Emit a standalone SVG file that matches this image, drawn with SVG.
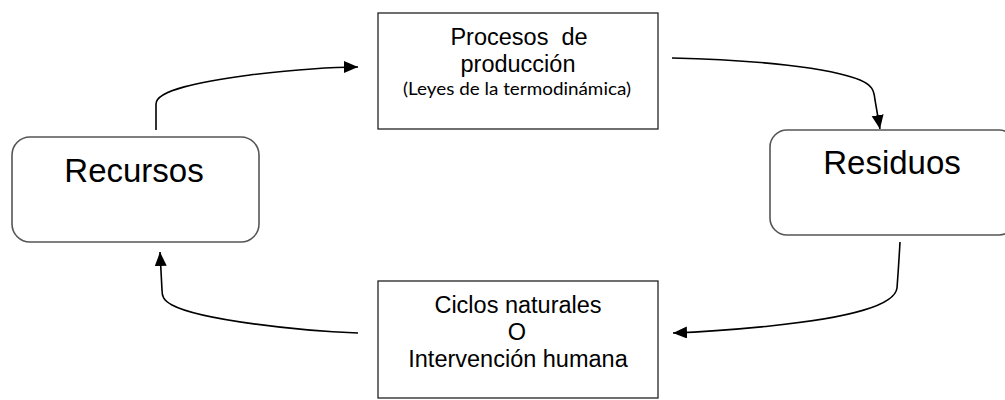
<svg xmlns="http://www.w3.org/2000/svg" width="1005" height="400" viewBox="0 0 1005 400">
<defs>
<style>
.rbox{fill:#fff;stroke:#555;stroke-width:1.6}
.box{fill:#fff;stroke:#222;stroke-width:1.3}
.t{font-family:"Liberation Sans",Arial,sans-serif;fill:#000;text-anchor:middle}
.big{font-size:33px}
.mid{font-size:23.5px}
.small{font-family:Lato,"Open Sans",sans-serif;font-size:17.5px;fill:#000;text-anchor:middle}
.con{fill:none;stroke:#000;stroke-width:1.6}
</style>
<marker id="arr" markerUnits="userSpaceOnUse" markerWidth="15" markerHeight="13" refX="14" refY="6" orient="auto">
<path d="M0,0 L14,6 L0,12 z" fill="#000"/>
</marker>
</defs>
<rect width="1005" height="400" fill="#fff"/>
<g id="connectors">
<path class="con" d="M156,130 V104 C156,90 200,82 250,75 C300,69 330,67 358,67" marker-end="url(#arr)"/>
<path class="con" d="M672,58 C760,60 830,68 860,80 C872,85 874,90 875,100 L880,129" marker-end="url(#arr)"/>
<path class="con" d="M900,242 C899,260 898,275 897,288 C895,305 850,318 770,326 C730,330 700,332 673,333" marker-end="url(#arr)"/>
<path class="con" d="M358,333 C300,331 200,320 172,305 C163,300 162,296 162,290 L160,252" marker-end="url(#arr)"/>
</g>
<g id="procesos">
<rect class="box" x="378" y="13" width="280" height="116"/>
<text class="t mid" x="519" y="45" xml:space="preserve">Procesos  de</text>
<text class="t mid" x="518" y="72">producción</text>
<text class="small" x="517" y="95" textLength="228" lengthAdjust="spacingAndGlyphs">(Leyes de la termodinámica)</text>
</g>
<g id="recursos">
<rect class="rbox" x="12" y="137" width="247" height="105" rx="18" ry="18"/>
<text class="t big" x="134" y="182">Recursos</text>
</g>
<g id="residuos">
<rect class="rbox" x="770" y="130" width="246" height="105" rx="17" ry="17"/>
<text class="t big" x="892" y="174">Residuos</text>
</g>
<g id="ciclos">
<rect class="box" x="378" y="281" width="280" height="117"/>
<text class="t mid" x="518" y="313">Ciclos naturales</text>
<text class="t mid" x="517" y="340">O</text>
<text class="t mid" x="518" y="367">Intervención humana</text>
</g>
</svg>
